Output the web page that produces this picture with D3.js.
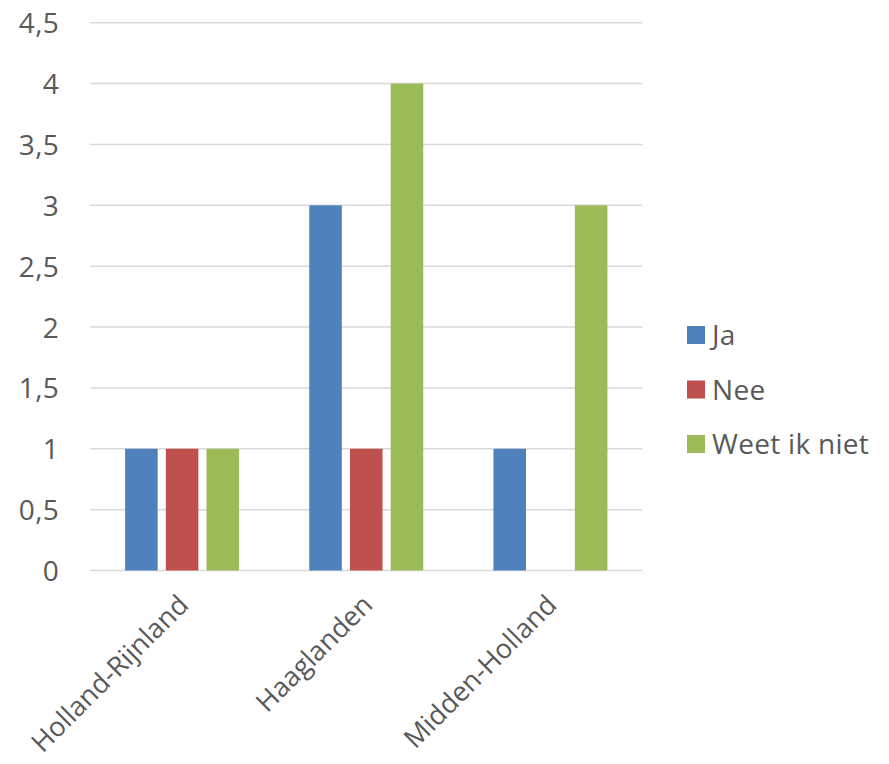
<!DOCTYPE html>
<html><head><meta charset="utf-8">
<script src="https://cdn.jsdelivr.net/npm/d3@7"></script>
<style>body{margin:0;background:#fff}</style>
</head><body>
<svg id="chart" width="889" height="764"></svg>
<script>
const categories = ["Holland-Rijnland", "Haaglanden", "Midden-Holland"];
const seriesNames = ["Ja", "Nee", "Weet ik niet"];
const ja = [1, 3, 1];
const nee = [1, 1, 0];
const weetIkNiet = [1, 4, 3];
const yTicks = [0, 0.5, 1, 1.5, 2, 2.5, 3, 3.5, 4, 4.5];
const colors = ["#4F81BD", "#C0504D", "#9BBB59"];

const seriesValues = [ja, nee, weetIkNiet];
const svg = d3.select("#chart");
const plotL = 90, plotR = 642.5, plotT = 22.7, plotB = 570.5;
const font = "'Open Sans', sans-serif";
const textColor = "#595959";

const x0 = d3.scaleBand().domain(categories).range([plotL, plotR]).padding(0);
const groupW = 114;
const x1 = d3.scaleBand().domain(seriesNames).range([0, groupW]).paddingInner(0.2).paddingOuter(0);
const y = d3.scaleLinear().domain([0, 4.5]).range([plotB, plotT]);

// gridlines
svg.append("g").selectAll("line").data(yTicks).join("line")
  .attr("x1", plotL).attr("x2", plotR)
  .attr("y1", d => y(d)).attr("y2", d => y(d))
  .attr("stroke", "#D9D9D9").attr("stroke-width", 1.5);

// y axis labels
const yAxis = d3.axisLeft(y).tickValues(yTicks).tickSize(0).tickPadding(0)
  .tickFormat(d => String(d).replace(".", ","));
const ya = svg.append("g").attr("transform", `translate(${plotL - 31},0)`).call(yAxis);
ya.select(".domain").remove();
ya.selectAll("text").attr("font-family", font).attr("font-size", 28).attr("fill", textColor)
  .attr("letter-spacing", 0.3).attr("dy", "0.36em");

// bars
const groups = svg.append("g").selectAll("g").data(categories).join("g")
  .attr("transform", c => `translate(${x0(c) + (x0.bandwidth() - groupW) / 2},0)`);
groups.selectAll("rect").data((c, ci) => seriesNames.map((s, si) => ({s, si, v: seriesValues[si][ci]})))
  .join("rect")
  .attr("x", d => x1(d.s)).attr("width", x1.bandwidth())
  .attr("y", d => y(d.v)).attr("height", d => y(0) - y(d.v))
  .attr("fill", d => colors[d.si]);

// x labels
const xa = svg.append("g").attr("transform", `translate(0,${plotB})`)
  .call(d3.axisBottom(x0).tickSize(0).tickPadding(0));
xa.select(".domain").remove();
xa.selectAll("text")
  .attr("font-family", font).attr("font-size", 27).attr("fill", textColor)
  .attr("letter-spacing", 0)
  .attr("text-anchor", "end").attr("dy", null).attr("y", 0)
  .attr("transform", "translate(8,36) rotate(-45)");

// legend
const lg = svg.append("g").selectAll("g").data(seriesNames).join("g")
  .attr("transform", (d, i) => `translate(687,${326 + i * 54.5})`);
lg.append("rect").attr("width", 18).attr("height", 18).attr("fill", (d, i) => colors[i]);
lg.append("text").attr("x", 25).attr("y", 19).text(d => d)
  .attr("font-family", font).attr("font-size", 28).attr("fill", textColor).attr("letter-spacing", 0.3);
</script>
</body></html>
